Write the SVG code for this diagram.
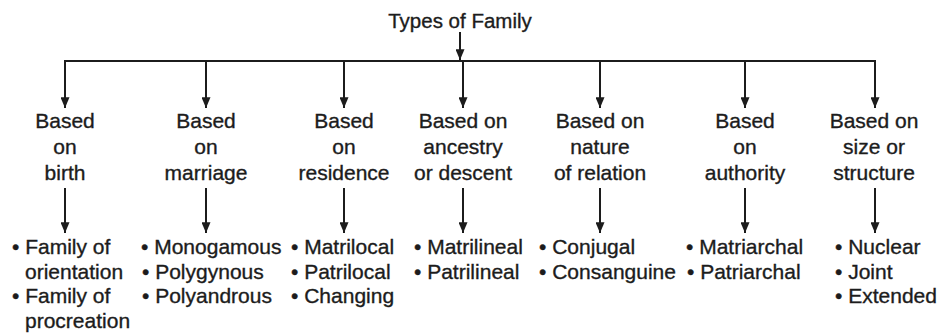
<svg xmlns="http://www.w3.org/2000/svg" width="939" height="335" viewBox="0 0 939 335">
  <style>
    text { font-family: "Liberation Sans", Arial, sans-serif; font-size: 21px; fill: #1c1c1c; stroke: #1c1c1c; stroke-width: 0.35; }
    .c { text-anchor: middle; }
    .t { font-size: 20.5px; }
    .ln { stroke: #1c1c1c; stroke-width: 2; fill: none; }
  </style>
  <defs>
    <marker id="ah" viewBox="0 0 12 10" refX="12" refY="5" markerWidth="12" markerHeight="9" markerUnits="userSpaceOnUse" orient="auto">
      <path d="M0,0 L12,5 L0,10 z" fill="#1c1c1c"/>
    </marker>
  </defs>
  <rect width="939" height="335" fill="#ffffff"/>

  <g id="connectors">
    <line class="ln" x1="460" y1="32" x2="460" y2="60" marker-end="url(#ah)"/>
    <line class="ln" x1="64" y1="61" x2="876" y2="61"/>
    <line class="ln" x1="65" y1="61" x2="65" y2="108" marker-end="url(#ah)"/>
    <line class="ln" x1="206" y1="61" x2="206" y2="108" marker-end="url(#ah)"/>
    <line class="ln" x1="344" y1="61" x2="344" y2="108" marker-end="url(#ah)"/>
    <line class="ln" x1="463" y1="61" x2="463" y2="108" marker-end="url(#ah)"/>
    <line class="ln" x1="600" y1="61" x2="600" y2="108" marker-end="url(#ah)"/>
    <line class="ln" x1="745" y1="61" x2="745" y2="108" marker-end="url(#ah)"/>
    <line class="ln" x1="875" y1="61" x2="875" y2="108" marker-end="url(#ah)"/>
    <line class="ln" x1="65" y1="188" x2="65" y2="233" marker-end="url(#ah)"/>
    <line class="ln" x1="206" y1="188" x2="206" y2="233" marker-end="url(#ah)"/>
    <line class="ln" x1="344" y1="188" x2="344" y2="233" marker-end="url(#ah)"/>
    <line class="ln" x1="463" y1="188" x2="463" y2="233" marker-end="url(#ah)"/>
    <line class="ln" x1="600" y1="188" x2="600" y2="233" marker-end="url(#ah)"/>
    <line class="ln" x1="745" y1="188" x2="745" y2="233" marker-end="url(#ah)"/>
    <line class="ln" x1="875" y1="188" x2="875" y2="233" marker-end="url(#ah)"/>
  </g>

  <g id="title"><text class="c t" x="460" y="28">Types of Family</text></g>

  <g id="cat-birth">
    <text class="c" x="65" y="128">Based</text>
    <text class="c" x="65" y="154">on</text>
    <text class="c" x="65" y="180">birth</text>
  </g>
  <g id="cat-marriage">
    <text class="c" x="206" y="128">Based</text>
    <text class="c" x="206" y="154">on</text>
    <text class="c" x="206" y="180">marriage</text>
  </g>
  <g id="cat-residence">
    <text class="c" x="344" y="128">Based</text>
    <text class="c" x="344" y="154">on</text>
    <text class="c" x="344" y="180">residence</text>
  </g>
  <g id="cat-ancestry">
    <text class="c" x="463" y="128">Based on</text>
    <text class="c" x="463" y="154">ancestry</text>
    <text class="c" x="463" y="180">or descent</text>
  </g>
  <g id="cat-relation">
    <text class="c" x="600" y="128">Based on</text>
    <text class="c" x="600" y="154">nature</text>
    <text class="c" x="600" y="180">of relation</text>
  </g>
  <g id="cat-authority">
    <text class="c" x="745" y="128">Based</text>
    <text class="c" x="745" y="154">on</text>
    <text class="c" x="745" y="180">authority</text>
  </g>
  <g id="cat-size">
    <text class="c" x="874" y="128">Based on</text>
    <text class="c" x="874" y="154">size or</text>
    <text class="c" x="874" y="180">structure</text>
  </g>

  <g id="list-birth">
    <text x="12" y="254">• Family of</text>
    <text x="25" y="278.5">orientation</text>
    <text x="12" y="303">• Family of</text>
    <text x="25" y="327.5">procreation</text>
  </g>
  <g id="list-marriage">
    <text x="141" y="254">• Monogamous</text>
    <text x="142" y="278.5">• Polygynous</text>
    <text x="142" y="303">• Polyandrous</text>
  </g>
  <g id="list-residence">
    <text x="291" y="254">• Matrilocal</text>
    <text x="291" y="278.5">• Patrilocal</text>
    <text x="291" y="303">• Changing</text>
  </g>
  <g id="list-ancestry">
    <text x="414" y="254">• Matrilineal</text>
    <text x="414" y="278.5">• Patrilineal</text>
  </g>
  <g id="list-relation">
    <text x="539" y="254">• Conjugal</text>
    <text x="539" y="278.5">• Consanguine</text>
  </g>
  <g id="list-authority">
    <text x="686" y="254">• Matriarchal</text>
    <text x="687" y="278.5">• Patriarchal</text>
  </g>
  <g id="list-size">
    <text x="835" y="254">• Nuclear</text>
    <text x="835" y="278.5">• Joint</text>
    <text x="835" y="303">• Extended</text>
  </g>
</svg>
